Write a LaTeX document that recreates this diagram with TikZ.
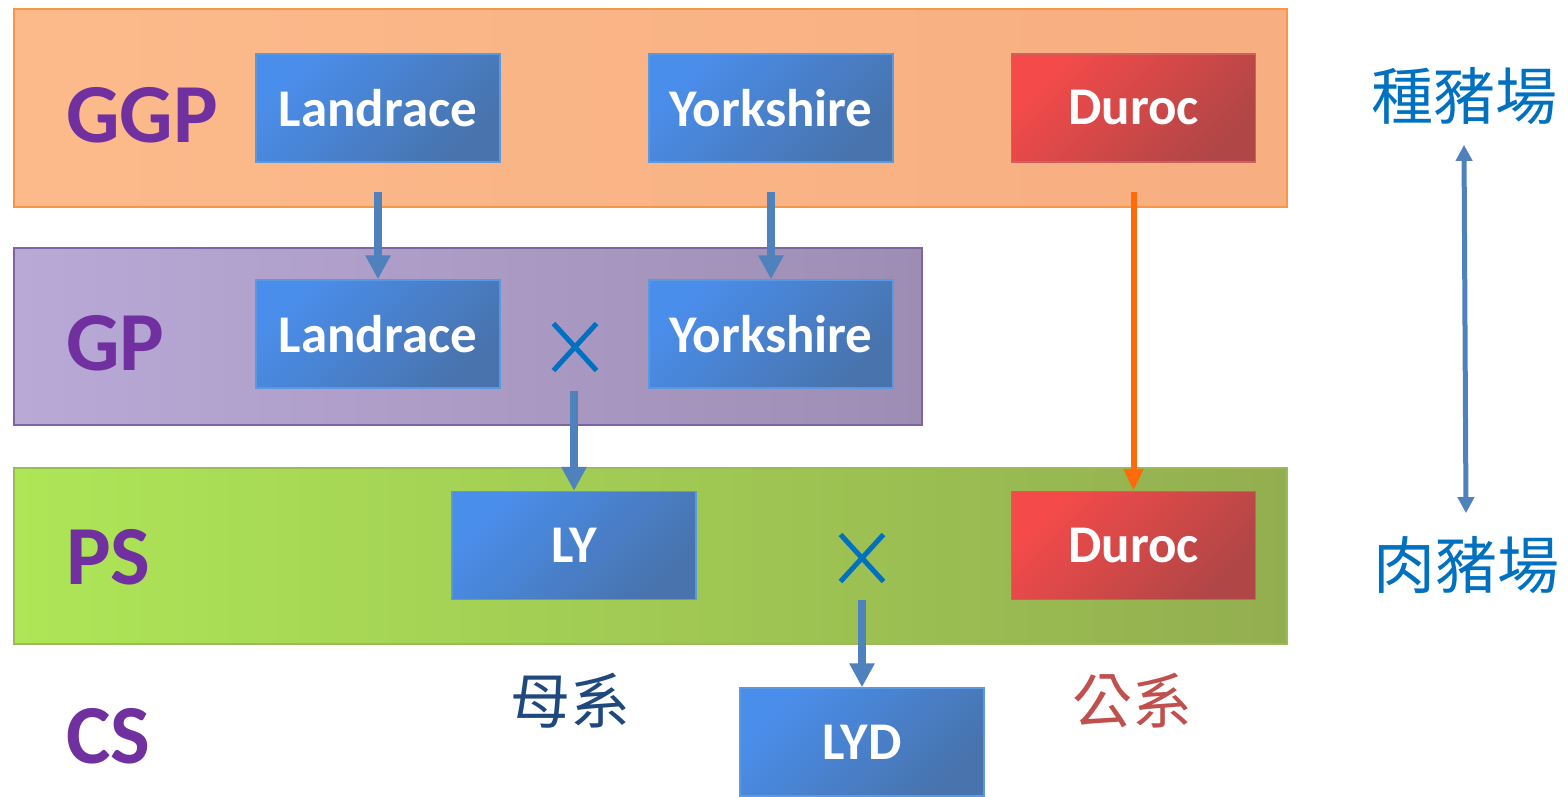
\documentclass[tikz,border=0pt]{standalone}
\usepackage{fontspec}
\setmainfont{Carlito}
\newfontfamily\cjk{Noto Sans CJK TC}
\usetikzlibrary{arrows.meta,shapes.misc}

\definecolor{bandO}{HTML}{FCBA8B}
\definecolor{bandOd}{HTML}{F7AE80}
\definecolor{bandOb}{HTML}{F79646}
\definecolor{bandP}{HTML}{B9A9D7}
\definecolor{bandPd}{HTML}{9E8DB3}
\definecolor{bandPb}{HTML}{8064A2}
\definecolor{bandG}{HTML}{AEE657}
\definecolor{bandGd}{HTML}{93AE50}
\definecolor{bandGb}{HTML}{9BBB59}
\definecolor{boxB}{HTML}{4A8EEC}
\definecolor{boxBd}{HTML}{4873AC}
\definecolor{boxBb}{HTML}{5A98E0}
\definecolor{boxR}{HTML}{F54A4A}
\definecolor{boxRd}{HTML}{B04646}
\definecolor{boxRb}{HTML}{D06060}
\definecolor{lvl}{HTML}{7030A0}
\definecolor{arrB}{HTML}{4F81BD}
\definecolor{arrO}{HTML}{FF6A0A}
\definecolor{crossC}{HTML}{0070C0}
\definecolor{damC}{HTML}{1F497D}
\definecolor{sireC}{HTML}{C0504D}

\tikzset{
  band/.style={draw=#1, line width=2pt},
  breed/.style={minimum width=244pt, minimum height=108pt, inner sep=0pt,
    line width=1.5pt, text=white,
    font=\fontsize{53}{60}\selectfont\bfseries},
  bluebox/.style={breed, draw=boxBb, top color=boxB, bottom color=boxBd, shading angle=45},
  redbox/.style={breed, draw=boxRb, top color=boxR, bottom color=boxRd, shading angle=45},
  level/.style={anchor=west, inner sep=0pt, text=lvl,
    font=\fontsize{84}{94}\selectfont\bfseries},
  crossmark/.style={cross out, draw=crossC, line width=5pt,
    minimum width=38pt, minimum height=42pt, inner sep=0pt},
  farm/.style={inner sep=0pt, text=crossC, font=\cjk\fontsize{62}{70}\selectfont},
  line/.style={inner sep=0pt, font=\cjk\fontsize{60}{68}\selectfont},
  flow/.style={draw=arrB, line width=8pt, -{Triangle[width=24pt,length=24pt]}},
  sire/.style={draw=arrO, line width=6pt, -{Triangle[width=19pt,length=22pt]}},
}

\begin{document}
\begin{tikzpicture}[x=1pt,y=-1pt]
\useasboundingbox (0,0) rectangle (1568,796);

% generation bands
\shade[left color=bandO, right color=bandOd] (14,9) rectangle (1287,207);
\draw[band=bandOb] (14,9) rectangle (1287,207);
\shade[left color=bandP, right color=bandPd] (14,248) rectangle (922,425);
\draw[band=bandPb] (14,248) rectangle (922,425);
\shade[left color=bandG, right color=bandGd] (14,468) rectangle (1287,644);
\draw[band=bandGb] (14,468) rectangle (1287,644);

% level labels
\node[level] (ggp) at (66,115) {GGP};
\node[level] (gp)  at (66,343) {GP};
\node[level] (ps)  at (66,557) {PS};
\node[level] (cs)  at (66,736) {CS};

% breeds
\node[bluebox] (l1) at (378,108) {Landrace};
\node[bluebox] (y1) at (771,108) {Yorkshire};
\node[redbox]  (d1) at (1133.5,108) {Duroc};
\node[bluebox] (l2) at (378,334) {Landrace};
\node[bluebox] (y2) at (771,334) {Yorkshire};
\node[bluebox] (ly) at (574,545.5) {LY};
\node[redbox]  (d2) at (1133.5,545.5) {Duroc};
\node[bluebox] (lyd) at (862,742) {LYD};

% crosses
\node[crossmark] (x1) at (575,347) {};
\node[crossmark] (x2) at (862,558) {};

% flows
\draw[flow, shorten <=29pt] (l1.south) -- (l2.north);
\draw[flow, shorten <=29pt] (y1.south) -- (y2.north);
\draw[flow] ([yshift=-20pt]x1.south -| ly.north) -- (ly.north);
\draw[flow] ([yshift=-18pt]x2.south) -- (lyd.north);
\draw[sire, shorten <=29pt] (d1.south) -- (d2.north);

% farm types
\node[farm] (bf) at (1464,96) {種豬場};
\node[farm] (mf) at (1466,565) {肉豬場};
\draw[draw=arrB, line width=5pt, {Triangle[width=16pt,length=16pt]}-{Triangle[width=16pt,length=16pt]}]
  ([yshift=-20pt]bf.south) -- ([yshift=23pt]mf.north);

% dam and sire lines
\node[line, text=damC]  (dam) at (570,701) {母系};
\node[line, text=sireC] (sl)  at (1132,701) {公系};
\end{tikzpicture}
\end{document}
